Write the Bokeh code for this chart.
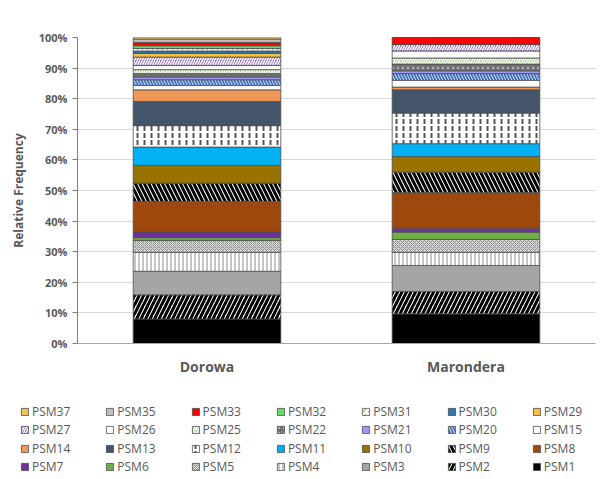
from bokeh.plotting import figure
from bokeh.layouts import column, row
from bokeh.models import (ColumnDataSource, FactorRange, Range1d, FixedTicker,
                          PrintfTickFormatter, Legend, LegendItem)
from bokeh.embed import file_html
from bokeh.resources import INLINE

categories = ["Dorowa", "Marondera"]
series = ["PSM1", "PSM2", "PSM3", "PSM4", "PSM5", "PSM6", "PSM7", "PSM8", "PSM9",
          "PSM10", "PSM11", "PSM12", "PSM13", "PSM14", "PSM15", "PSM20", "PSM21",
          "PSM22", "PSM25", "PSM26", "PSM27", "PSM29", "PSM30", "PSM31", "PSM32",
          "PSM33", "PSM35", "PSM37"]
dorowa = [8.0, 7.9, 7.7, 6.2, 3.9, 0.9, 1.8, 10.0, 6.0, 5.8, 6.0, 7.0, 7.9, 3.8,
          1.4, 1.9, 0.9, 1.1, 1.3, 1.4, 2.7, 1.2, 0.8, 0.8, 0.9, 1.1, 1.1, 0.5]
marondera = [9.7, 7.3, 8.5, 4.3, 4.2, 2.4, 1.3, 11.6, 6.7, 5.1, 4.2, 10.0, 7.6, 0.9,
             2.2, 2.2, 0.9, 2.2, 2.0, 2.3, 2.2, 0.0, 0.0, 0.0, 0.0, 2.2, 0.0, 0.0]
y_ticks = [0, 10, 20, 30, 40, 50, 60, 70, 80, 90, 100]
legend_rows = [
    ["PSM37", "PSM35", "PSM33", "PSM32", "PSM31", "PSM30", "PSM29"],
    ["PSM27", "PSM26", "PSM25", "PSM22", "PSM21", "PSM20", "PSM15"],
    ["PSM14", "PSM13", "PSM12", "PSM11", "PSM10", "PSM9", "PSM8"],
    ["PSM7", "PSM6", "PSM5", "PSM4", "PSM3", "PSM2", "PSM1"],
]

# fill, hatch pattern, hatch colour, hatch scale, hatch weight
styles = {
    "PSM1": ("#000000", " ", "#000000", 12, 1),
    "PSM2": ("#FFFFFF", "/", "#000000", 9, 3),
    "PSM3": ("#A5A5A5", " ", "#000000", 12, 1),
    "PSM4": ("#FFFFFF", "|", "#8C8C8C", 4, 1),
    "PSM5": ("#D4D4D4", "x", "#8C8C8C", 4, 1),
    "PSM6": ("#70AD47", " ", "#000000", 12, 1),
    "PSM7": ("#7030A0", " ", "#000000", 12, 1),
    "PSM8": ("#9E480E", " ", "#000000", 12, 1),
    "PSM9": ("#FFFFFF", "\\", "#000000", 9, 3),
    "PSM10": ("#997300", " ", "#000000", 12, 1),
    "PSM11": ("#00B0F0", " ", "#000000", 12, 1),
    "PSM12": ("#FFFFFF", ":", "#555555", 7, 2),
    "PSM13": ("#44546A", " ", "#000000", 12, 1),
    "PSM14": ("#F09858", " ", "#000000", 12, 1),
    "PSM15": ("#FFFFFF", " ", "#000000", 12, 1),
    "PSM20": ("#FFFFFF", "\\", "#4472C4", 6, 2),
    "PSM21": ("#9F99F5", " ", "#000000", 12, 1),
    "PSM22": ("#707070", ".", "#B0B0B0", 5, 1),
    "PSM25": ("#A9D18E", "/", "#FFFFFF", 5, 1.5),
    "PSM26": ("#FFFFFF", " ", "#000000", 12, 1),
    "PSM27": ("#8E63C9", "/", "#FFFFFF", 5, 1.5),
    "PSM29": ("#F5C242", " ", "#000000", 12, 1),
    "PSM30": ("#2E75B6", " ", "#000000", 12, 1),
    "PSM31": ("#FFFFFF", ",", "#70AD47", 5, 1),
    "PSM32": ("#66DD66", " ", "#000000", 12, 1),
    "PSM33": ("#FF0000", " ", "#000000", 12, 1),
    "PSM35": ("#BFBFBF", " ", "#000000", 12, 1),
    "PSM37": ("#EDC45A", " ", "#000000", 12, 1),
}
LINE = "#4D4D4D"

data = {"site": categories}
for name, d, m in zip(series, dorowa, marondera):
    data[name] = [d, m]
source = ColumnDataSource(data)

p = figure(x_range=FactorRange(*categories), y_range=Range1d(0, 100),
           width=608, height=395, output_backend="svg", toolbar_location=None,
           min_border_left=77, min_border_right=13, min_border_top=37,
           min_border_bottom=52)
p.outline_line_color = None
p.background_fill_color = "white"
p.border_fill_color = "white"

renderers = p.vbar_stack(
    series, x="site", width=0.57, source=source,
    fill_color=[styles[s][0] for s in series],
    hatch_pattern=[styles[s][1] for s in series],
    hatch_color=[styles[s][2] for s in series],
    hatch_scale=[styles[s][3] for s in series],
    hatch_weight=[styles[s][4] for s in series],
    line_color=LINE, line_width=0.8,
)

# axes
p.yaxis.ticker = FixedTicker(ticks=y_ticks)
p.yaxis.formatter = PrintfTickFormatter(format="%d%%")
p.yaxis.minor_tick_line_color = None
p.yaxis.major_tick_in = 0
p.yaxis.major_tick_out = 5
p.yaxis.axis_line_color = "#7F7F7F"
p.yaxis.major_tick_line_color = "#7F7F7F"
p.yaxis.major_label_text_font = "Open Sans"
p.yaxis.major_label_text_font_style = "bold"
p.yaxis.major_label_text_font_size = "11px"
p.yaxis.major_label_text_color = "#595959"
p.yaxis.major_label_standoff = 5
p.yaxis.axis_label = "Relative Frequency"
p.yaxis.axis_label_text_font = "Open Sans"
p.yaxis.axis_label_text_font_style = "bold"
p.yaxis.axis_label_text_font_size = "12px"
p.yaxis.axis_label_text_color = "#595959"
p.yaxis.axis_label_standoff = 9

p.xaxis.axis_line_color = "#A6A6A6"
p.xaxis.major_tick_line_color = None
p.xaxis.minor_tick_line_color = None
p.xaxis.major_label_text_font = "Open Sans"
p.xaxis.major_label_text_font_style = "bold"
p.xaxis.major_label_text_font_size = "14px"
p.xaxis.major_label_text_color = "#595959"
p.xaxis.major_label_standoff = 7

p.xgrid.grid_line_color = None
p.ygrid.grid_line_color = "#D9D9D9"
p.ygrid.grid_line_width = 1

# legend panel: a second figure whose frame fills it; swatch renderers sit
# outside its visible range so only their legend glyphs show
lf = figure(width=608, height=84, x_range=Range1d(0, 1), y_range=Range1d(0, 1),
            x_axis_type=None, y_axis_type=None, output_backend="svg",
            toolbar_location=None, min_border=0)
lf.outline_line_color = None
lf.grid.visible = False
swatch = {}
for s in series:
    fill, hp, hc, hs, hw = styles[s]
    swatch[s] = lf.vbar(x=[-5], top=[-5], bottom=[-6], width=0.1, fill_color=fill,
                        hatch_pattern=hp, hatch_color=hc, hatch_scale=hs,
                        hatch_weight=hw, line_color=LINE, line_width=0.8)

col_pitch = 85.3
row_bottoms = [59.0, 40.7, 22.4, 4.1]
for r, (items, yb) in enumerate(zip(legend_rows, row_bottoms)):
    for c, n in enumerate(items):
        leg = Legend(
            items=[LegendItem(label=n, renderers=[swatch[n]])],
            orientation="horizontal",
            location=(20 + c * col_pitch, yb),
            glyph_width=9, glyph_height=9, label_standoff=3,
            spacing=0, padding=1, margin=0, label_height=12,
            border_line_color=None, background_fill_alpha=0,
            label_text_font="Open Sans", label_text_font_size="12px",
            label_text_color="#595959",
        )
        lf.add_layout(leg, "center")

layout = column(p, row(lf, spacing=0), spacing=0)
open("out.html", "w").write(file_html(layout, INLINE))
